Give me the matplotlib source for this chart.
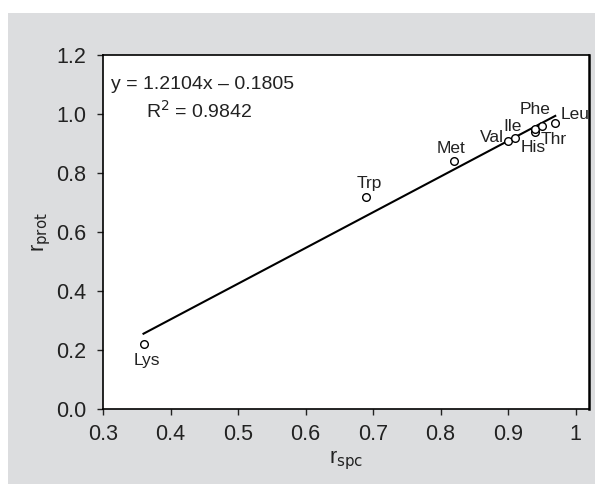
import matplotlib
matplotlib.use("Agg")
import matplotlib.pyplot as plt
from matplotlib.patches import Rectangle
import numpy as np

plt.rcParams['font.family'] = ['Liberation Sans', 'DejaVu Sans']

amino = ['Lys', 'Trp', 'Met', 'Val', 'Ile', 'His', 'Thr', 'Phe', 'Leu']
r_spc = [0.36, 0.69, 0.82, 0.90, 0.91, 0.94, 0.94, 0.95, 0.97]
r_prot = [0.22, 0.72, 0.84, 0.91, 0.92, 0.94, 0.95, 0.96, 0.97]
slope, intercept = 1.2104, -0.1805
r2 = 0.9842
xticks = [0.3, 0.4, 0.5, 0.6, 0.7, 0.8, 0.9, 1.0]
xticklabels = ['0.3', '0.4', '0.5', '0.6', '0.7', '0.8', '0.9', '1']
yticks = [0.0, 0.2, 0.4, 0.6, 0.8, 1.0, 1.2]

fig = plt.figure(figsize=(5.95, 4.84), dpi=100, facecolor='white')
bg = Rectangle((8/595, 0), 1 - 8/595, 1 - 13/484, transform=fig.transFigure,
               facecolor='#dcdddf', edgecolor='none', zorder=-10)
fig.add_artist(bg)
ax = fig.add_axes([103/595, 1 - 409/484, (589 - 103)/595, (409 - 55)/484])
ax.set_zorder(5)
ax.set_facecolor('white')

xl = np.array([min(r_spc), max(r_spc)])
ax.plot(xl, slope * xl + intercept, color='black', lw=1.5, zorder=2)
ax.plot(r_spc, r_prot, 'o', mfc='white', mec='black', ms=5.5, mew=1.0, zorder=3)

offsets = {
    'Lys': (0.005, -0.054),
    'Trp': (0.004, 0.046),
    'Met': (-0.004, 0.044),
    'Val': (-0.024, 0.012),
    'Ile': (-0.003, 0.036),
    'His': (-0.003, -0.055),
    'Thr': (0.027, -0.038),
    'Phe': (-0.010, 0.054),
    'Leu': (0.029, 0.027),
}
for name, x, y in zip(amino, r_spc, r_prot):
    dx, dy = offsets[name]
    ax.text(x + dx, y + dy, name, ha='center', va='center', fontsize=12.5, color='#222222')

ax.text(0.312, 1.10, 'y = 1.2104x \u2013 0.1805', fontsize=14, ha='left', va='center', color='#222222')
ax.text(0.364, 1.012, 'R$^2$ = 0.9842', fontsize=14, ha='left', va='center', color='#222222')

ax.set_xlim(0.3, 1.02)
ax.set_ylim(0.0, 1.2)
ax.set_xticks(xticks)
ax.set_xticklabels(xticklabels)
ax.set_yticks(yticks)
ax.set_yticklabels([f'{v:.1f}' for v in yticks])
ax.tick_params(direction='out', length=4, width=1, labelsize=15.5, colors='#222222')
ax.tick_params(axis='x', pad=7)
ax.tick_params(axis='y', pad=8)
for s in ax.spines.values():
    s.set_linewidth(1.2)
    s.set_color('black')
ax.spines['right'].set_linewidth(1.8)

ax.set_xlabel('r$_{\\mathrm{spc}}$', fontsize=15.5, labelpad=2, color='#222222')
ax.set_ylabel('r$_{\\mathrm{prot}}$', fontsize=15.5, labelpad=2, color='#222222')

fig.savefig('out.png', dpi=100, facecolor=fig.get_facecolor())
